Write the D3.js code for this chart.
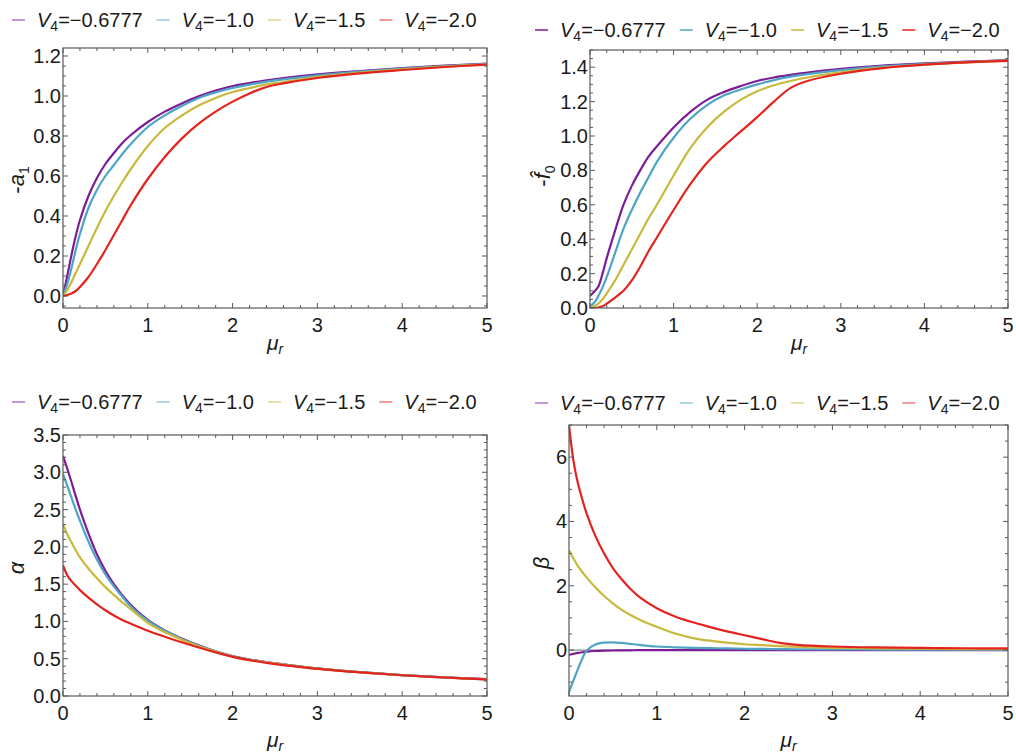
<!DOCTYPE html>
<html>
<head>
<meta charset="utf-8">
<script src="https://cdn.jsdelivr.net/npm/d3@7"></script>
<style>
body { margin: 0; background: #fff; }
text { font-family: "Liberation Sans", Arial, sans-serif; fill: #1a1a1a; }
</style>
</head>
<body>
<div id="chart"></div>
<script>
const width = 1016, height = 755;

// mu_r sample points
const mu = [0, 0.05, 0.1, 0.15, 0.2, 0.3, 0.4, 0.5, 0.6, 0.7, 0.8, 1.0, 1.2, 1.4, 1.6, 1.8, 2.0, 2.2, 2.4, 2.6, 3.0, 3.5, 4.0, 4.5, 5.0];

const v4Labels = ["\u22120.6777", "\u22121.0", "\u22121.5", "\u22122.0"];
const colors = ["#7c1d97", "#4fa4c4", "#c8b93c", "#e4231f"];

// -a1, one row per V4
const negA1 = [
    [0, 0.10, 0.205, 0.30, 0.38, 0.50, 0.59, 0.66, 0.715, 0.765, 0.805, 0.87, 0.922, 0.963, 0.998, 1.027, 1.05, 1.065, 1.078, 1.089, 1.108, 1.125, 1.14, 1.152, 1.162],
    [0, 0.06, 0.14, 0.23, 0.31, 0.44, 0.53, 0.6, 0.655, 0.71, 0.76, 0.845, 0.903, 0.95, 0.99, 1.018, 1.04, 1.057, 1.072, 1.083, 1.103, 1.122, 1.137, 1.15, 1.16],
    [0, 0.03, 0.07, 0.115, 0.16, 0.25, 0.34, 0.425, 0.5, 0.57, 0.635, 0.75, 0.84, 0.902, 0.952, 0.99, 1.02, 1.04, 1.058, 1.07, 1.095, 1.117, 1.133, 1.147, 1.158],
    [0, 0.005, 0.013, 0.025, 0.045, 0.095, 0.16, 0.23, 0.305, 0.38, 0.455, 0.585, 0.695, 0.787, 0.862, 0.922, 0.972, 1.013, 1.045, 1.063, 1.09, 1.113, 1.13, 1.145, 1.157]
];

// -f0 hat
const negF0 = [
    [0.07, 0.095, 0.125, 0.2, 0.29, 0.45, 0.60, 0.71, 0.80, 0.88, 0.94, 1.05, 1.14, 1.21, 1.255, 1.29, 1.32, 1.34, 1.355, 1.368, 1.39, 1.41, 1.422, 1.432, 1.442],
    [0.01, 0.03, 0.07, 0.12, 0.18, 0.32, 0.46, 0.57, 0.67, 0.76, 0.85, 0.99, 1.1, 1.18, 1.235, 1.27, 1.30, 1.325, 1.345, 1.36, 1.383, 1.405, 1.42, 1.43, 1.44],
    [0, 0.01, 0.025, 0.05, 0.085, 0.16, 0.25, 0.34, 0.43, 0.52, 0.60, 0.77, 0.93, 1.05, 1.14, 1.21, 1.26, 1.295, 1.32, 1.34, 1.37, 1.398, 1.415, 1.428, 1.438],
    [0, 0, 0.003, 0.01, 0.025, 0.06, 0.10, 0.16, 0.24, 0.33, 0.41, 0.57, 0.72, 0.845, 0.94, 1.025, 1.11, 1.2, 1.28, 1.32, 1.362, 1.395, 1.415, 1.428, 1.437]
];

const alpha = [
    [3.22, 3.05, 2.87, 2.68, 2.5, 2.18, 1.9, 1.68, 1.5, 1.35, 1.22, 1.02, 0.88, 0.77, 0.68, 0.6, 0.535, 0.49, 0.455, 0.425, 0.37, 0.32, 0.28, 0.25, 0.225],
    [2.98, 2.82, 2.66, 2.5, 2.35, 2.07, 1.83, 1.63, 1.47, 1.33, 1.2, 1.01, 0.875, 0.765, 0.675, 0.6, 0.533, 0.488, 0.453, 0.423, 0.369, 0.319, 0.279, 0.249, 0.224],
    [2.3, 2.17, 2.06, 1.955, 1.86, 1.71, 1.58, 1.46, 1.355, 1.255, 1.165, 0.98, 0.855, 0.755, 0.668, 0.595, 0.53, 0.485, 0.45, 0.42, 0.367, 0.318, 0.278, 0.248, 0.223],
    [1.75, 1.62, 1.54, 1.48, 1.42, 1.32, 1.23, 1.15, 1.08, 1.02, 0.97, 0.875, 0.795, 0.72, 0.65, 0.585, 0.525, 0.48, 0.445, 0.415, 0.365, 0.318, 0.278, 0.248, 0.222]
];

const beta = [
    [-0.15, -0.12, -0.09, -0.07, -0.05, -0.03, -0.02, -0.015, -0.01, -0.008, -0.006, -0.004, -0.003, -0.002, -0.002, -0.001, -0.001, 0, 0, 0, 0, 0, 0, 0, 0],
    [-1.3, -0.95, -0.6, -0.28, -0.02, 0.17, 0.23, 0.24, 0.22, 0.19, 0.16, 0.11, 0.085, 0.07, 0.06, 0.05, 0.04, 0.035, 0.03, 0.025, 0.02, 0.015, 0.01, 0.01, 0.01],
    [3.1, 2.85, 2.62, 2.43, 2.26, 1.95, 1.68, 1.45, 1.25, 1.09, 0.95, 0.72, 0.52, 0.38, 0.29, 0.23, 0.18, 0.15, 0.12, 0.1, 0.07, 0.05, 0.04, 0.03, 0.025],
    [7.0, 5.9, 5.2, 4.7, 4.25, 3.55, 3.0, 2.55, 2.2, 1.9, 1.65, 1.3, 1.05, 0.87, 0.72, 0.58, 0.46, 0.34, 0.22, 0.16, 0.11, 0.08, 0.065, 0.055, 0.05]
];

const xTicks = [0, 1, 2, 3, 4, 5];
const a1Ticks = [0, 0.2, 0.4, 0.6, 0.8, 1.0, 1.2];
const f0Ticks = [0, 0.2, 0.4, 0.6, 0.8, 1.0, 1.2, 1.4];
const alphaTicks = [0, 0.5, 1.0, 1.5, 2.0, 2.5, 3.0, 3.5];
const betaTicks = [0, 2, 4, 6];

const panels = [
    { id: "a1", data: negA1, x0: 63, x1: 487, y0: 48, y1: 308, ydom: [-0.06, 1.24], yTicks: a1Ticks, yMinor: 0.05, fmt: ".1f",
      legend: { x: 12, y: 20, faded: true }, ylab: { x: 24, y: 180, kind: "a1" }, xlab: { y: 350 } },
    { id: "f0", data: negF0, x0: 590, x1: 1008, y0: 50, y1: 308, ydom: [0, 1.5], yTicks: f0Ticks, yMinor: 0.05, fmt: ".1f",
      legend: { x: 535, y: 30, faded: false }, ylab: { x: 550, y: 176, kind: "f0" }, xlab: { y: 350 } },
    { id: "alpha", data: alpha, x0: 63, x1: 487, y0: 435, y1: 696, ydom: [0, 3.5], yTicks: alphaTicks, yMinor: 0.1, fmt: ".1f",
      legend: { x: 12, y: 402, faded: true }, ylab: { x: 24, y: 568, kind: "alpha" }, xlab: { y: 747 } },
    { id: "beta", data: beta, x0: 569, x1: 1008, y0: 425, y1: 696, ydom: [-1.43, 7.0], yTicks: betaTicks, yMinor: 0.5, fmt: "d",
      legend: { x: 535, y: 403, faded: true }, ylab: { x: 549, y: 563, kind: "beta" }, xlab: { y: 747 }, zeroLine: true }
];

const svg = d3.select("#chart").append("svg")
    .attr("width", width)
    .attr("height", height);

const frameColor = "#5a5a5a";

panels.forEach(p => {
    const g = svg.append("g");
    const x = d3.scaleLinear().domain([0, 5]).range([p.x0, p.x1]);
    const y = d3.scaleLinear().domain(p.ydom).range([p.y1, p.y0]);

    g.append("clipPath").attr("id", "clip-" + p.id)
        .append("rect")
        .attr("x", p.x0).attr("y", p.y0)
        .attr("width", p.x1 - p.x0).attr("height", p.y1 - p.y0);

    if (p.zeroLine) {
        g.append("line")
            .attr("x1", p.x0).attr("x2", p.x1)
            .attr("y1", y(0)).attr("y2", y(0))
            .attr("stroke", "#8c8c8c").attr("stroke-width", 1.3);
    }

    const line = d3.line()
        .x((d, i) => x(mu[i]))
        .y(d => y(d))
        .curve(d3.curveCatmullRom.alpha(0.5));

    const curves = g.append("g").attr("clip-path", "url(#clip-" + p.id + ")");
    curves.selectAll("path")
        .data(p.data)
        .enter()
        .append("path")
        .attr("d", d => line(d))
        .attr("fill", "none")
        .attr("stroke", (d, i) => colors[i])
        .attr("stroke-width", 2.2)
        .attr("stroke-linejoin", "round");

    // frame
    g.append("rect")
        .attr("x", p.x0).attr("y", p.y0)
        .attr("width", p.x1 - p.x0).attr("height", p.y1 - p.y0)
        .attr("fill", "none")
        .attr("stroke", frameColor)
        .attr("stroke-width", 1.2);

    // x ticks, on bottom and top, inward
    const xMinor = d3.range(0, 5.0001, 0.2);
    xMinor.forEach(v => {
        const major = Math.abs(v - Math.round(v)) < 1e-6;
        const len = major ? 5 : 3;
        g.append("line").attr("x1", x(v)).attr("x2", x(v))
            .attr("y1", p.y1).attr("y2", p.y1 - len)
            .attr("stroke", frameColor).attr("stroke-width", 1);
        g.append("line").attr("x1", x(v)).attr("x2", x(v))
            .attr("y1", p.y0).attr("y2", p.y0 + len)
            .attr("stroke", frameColor).attr("stroke-width", 1);
    });
    g.selectAll(".xt")
        .data(xTicks)
        .enter()
        .append("text")
        .attr("x", d => x(d))
        .attr("y", p.y1 + 24)
        .attr("text-anchor", "middle")
        .attr("font-size", 20)
        .text(d => d);

    // y ticks, on left and right, inward
    const startMinor = Math.ceil(p.ydom[0] / p.yMinor - 1e-6) * p.yMinor;
    const yMinorVals = d3.range(startMinor, p.ydom[1] + 1e-6, p.yMinor);
    yMinorVals.forEach(v => {
        const major = p.yTicks.some(t => Math.abs(t - v) < 1e-6);
        const len = major ? 5 : 3;
        g.append("line").attr("x1", p.x0).attr("x2", p.x0 + len)
            .attr("y1", y(v)).attr("y2", y(v))
            .attr("stroke", frameColor).attr("stroke-width", 1);
        g.append("line").attr("x1", p.x1).attr("x2", p.x1 - len)
            .attr("y1", y(v)).attr("y2", y(v))
            .attr("stroke", frameColor).attr("stroke-width", 1);
    });
    g.selectAll(".yt")
        .data(p.yTicks)
        .enter()
        .append("text")
        .attr("x", p.x0 - 2)
        .attr("y", d => y(d) + 7)
        .attr("text-anchor", "end")
        .attr("font-size", 20)
        .text(d => d3.format(p.fmt)(d));

    // x label  mu_r
    const xl = g.append("text")
        .attr("x", (p.x0 + p.x1) / 2)
        .attr("y", p.xlab.y)
        .attr("text-anchor", "middle")
        .attr("font-size", 21);
    xl.append("tspan").attr("font-style", "italic").text("\u03bc");
    xl.append("tspan").attr("font-style", "italic").attr("font-size", 14).attr("dy", 4).text("r");

    // y label
    const yl = g.append("text")
        .attr("transform", `translate(${p.ylab.x},${p.ylab.y}) rotate(-90)`)
        .attr("text-anchor", "middle")
        .attr("font-size", 22);
    if (p.ylab.kind === "a1") {
        yl.append("tspan").text("-");
        yl.append("tspan").attr("font-style", "italic").text("a");
        yl.append("tspan").attr("font-size", 14).attr("dy", 5).text("1");
    } else if (p.ylab.kind === "f0") {
        yl.append("tspan").text("-");
        yl.append("tspan").attr("font-style", "italic").text("f\u0302");
        yl.append("tspan").attr("font-size", 14).attr("dy", 5).text("0");
    } else if (p.ylab.kind === "alpha") {
        yl.append("tspan").attr("font-style", "italic").text("\u03b1");
    } else {
        yl.append("tspan").attr("font-style", "italic").text("\u03b2");
    }

    // legend
    let lx = p.legend.x;
    v4Labels.forEach((lab, i) => {
        g.append("line")
            .attr("x1", lx).attr("x2", lx + 13)
            .attr("y1", p.legend.y).attr("y2", p.legend.y)
            .attr("stroke", colors[i])
            .attr("stroke-width", 1.5)
            .attr("stroke-opacity", p.legend.faded ? 0.6 : 1);
        const t = g.append("text")
            .attr("x", lx + 25)
            .attr("y", p.legend.y + 7)
            .attr("font-size", 20);
        t.append("tspan").attr("font-style", "italic").text("V");
        t.append("tspan").attr("font-size", 14).attr("dy", 4).text("4");
        t.append("tspan").attr("dy", -4).text("=" + lab);
        lx = lx + 25 + t.node().getComputedTextLength() + 14;
    });
});
</script>
</body>
</html>
